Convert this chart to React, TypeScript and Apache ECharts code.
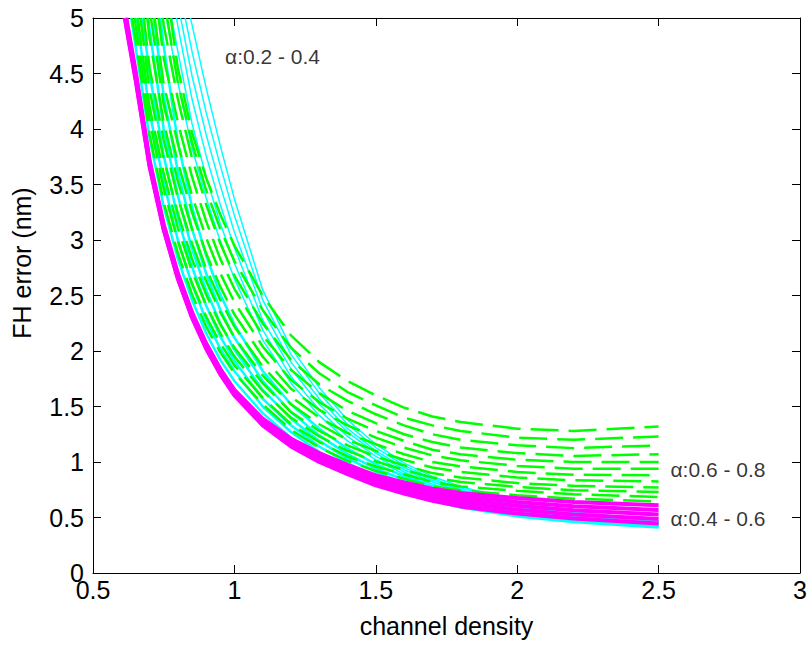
import { useEffect, useRef } from "react";
import * as echarts from "echarts";

// shared x grid (channel density)
const X = [0.65, 0.7, 0.75, 0.8, 0.85, 0.9, 0.95, 1.0, 1.1, 1.2, 1.3, 1.4, 1.5, 1.6, 1.7, 1.8, 2.0, 2.2, 2.5];

// x where each curve leaves the top of the plot (y = 5)
const cyanTop = [0.845, 0.826, 0.81, 0.795, 0.778, 0.76, 0.738, 0.715, 0.695, 0.675, 0.655, 0.635];
const cyanR0 = [null, null, null, null, 4.94, 4.37, 3.85, 3.37, 2.55, 2.03, 1.67, 1.38, 1.16, 0.99, 0.87, 0.78, 0.645, 0.555, 0.47];
const cyanR1 = [null, null, null, null, 4.7, 4.15, 3.67, 3.22, 2.46, 1.97, 1.62, 1.34, 1.13, 0.97, 0.85, 0.765, 0.635, 0.55, 0.468];
const cyanR2 = [null, null, null, null, 4.48, 3.95, 3.49, 3.07, 2.37, 1.9, 1.57, 1.3, 1.1, 0.95, 0.835, 0.75, 0.625, 0.545, 0.465];
const cyanR3 = [null, null, null, 4.93, 4.27, 3.76, 3.32, 2.93, 2.28, 1.84, 1.52, 1.27, 1.08, 0.93, 0.82, 0.735, 0.615, 0.54, 0.462];
const cyanR4 = [null, null, null, 4.7, 4.05, 3.57, 3.15, 2.79, 2.19, 1.77, 1.47, 1.23, 1.05, 0.91, 0.8, 0.72, 0.605, 0.535, 0.46];
const cyanR5 = [null, null, null, 4.42, 3.83, 3.38, 2.99, 2.65, 2.1, 1.71, 1.42, 1.19, 1.02, 0.89, 0.785, 0.705, 0.595, 0.53, 0.457];
const cyanL0 = [null, null, 4.75, 3.88, 3.3, 2.86, 2.51, 2.24, 1.82, 1.52, 1.3, 1.12, 0.98, 0.87, 0.78, 0.71, 0.6, 0.525, 0.45];
const cyanL1 = [null, null, 4.3, 3.62, 3.1, 2.7, 2.37, 2.12, 1.73, 1.45, 1.24, 1.07, 0.94, 0.84, 0.755, 0.685, 0.585, 0.515, 0.445];
const cyanL2 = [null, 4.9, 4.0, 3.4, 2.92, 2.55, 2.25, 2.01, 1.65, 1.39, 1.19, 1.03, 0.91, 0.81, 0.73, 0.665, 0.57, 0.505, 0.44];
const cyanL3 = [null, 4.5, 3.76, 3.2, 2.76, 2.41, 2.13, 1.91, 1.57, 1.33, 1.14, 0.99, 0.87, 0.78, 0.7, 0.64, 0.55, 0.49, 0.43];
const cyanL4 = [null, 4.15, 3.52, 3.0, 2.6, 2.28, 2.02, 1.82, 1.5, 1.27, 1.09, 0.95, 0.84, 0.75, 0.68, 0.62, 0.53, 0.475, 0.42];
const cyanL5 = [4.75, 3.92, 3.3, 2.83, 2.46, 2.16, 1.92, 1.73, 1.44, 1.22, 1.05, 0.92, 0.81, 0.72, 0.65, 0.59, 0.51, 0.46, 0.41];
const cyanCurves = [cyanR0, cyanR1, cyanR2, cyanR3, cyanR4, cyanR5, cyanL0, cyanL1, cyanL2, cyanL3, cyanL4, cyanL5];

const greenTop = [0.638, 0.648, 0.658, 0.668, 0.68, 0.692, 0.705, 0.718, 0.732, 0.747, 0.762, 0.775];
const greenG0 = [4.82, 3.95, 3.34, 2.88, 2.51, 2.22, 1.99, 1.8, 1.52, 1.29, 1.13, 1.01, 0.92, 0.85, 0.78, 0.745, 0.7, 0.67, 0.645];
const greenG1 = [4.95, 4.08, 3.46, 2.99, 2.61, 2.31, 2.07, 1.87, 1.58, 1.34, 1.18, 1.05, 0.96, 0.89, 0.82, 0.78, 0.74, 0.71, 0.685];
const greenG2 = [null, 4.2, 3.6, 3.11, 2.72, 2.41, 2.16, 1.95, 1.64, 1.4, 1.23, 1.1, 1.005, 0.93, 0.86, 0.82, 0.775, 0.745, 0.73];
const greenG3 = [null, 4.35, 3.73, 3.24, 2.83, 2.51, 2.24, 2.03, 1.71, 1.45, 1.28, 1.15, 1.05, 0.97, 0.9, 0.86, 0.81, 0.785, 0.77];
const greenG4 = [null, 4.55, 3.9, 3.38, 2.97, 2.63, 2.35, 2.12, 1.78, 1.52, 1.34, 1.2, 1.1, 1.02, 0.95, 0.91, 0.86, 0.835, 0.825];
const greenG5 = [null, 4.82, 4.06, 3.53, 3.1, 2.74, 2.46, 2.22, 1.86, 1.59, 1.4, 1.26, 1.16, 1.07, 1.0, 0.96, 0.91, 0.885, 0.88];
const greenG6 = [null, null, 4.22, 3.7, 3.25, 2.88, 2.58, 2.33, 1.95, 1.66, 1.47, 1.33, 1.22, 1.13, 1.06, 1.015, 0.965, 0.94, 0.94];
const greenG7 = [null, null, 4.4, 3.87, 3.4, 3.02, 2.7, 2.44, 2.04, 1.74, 1.54, 1.39, 1.28, 1.19, 1.11, 1.07, 1.02, 1.0, 1.0];
const greenG8 = [null, null, 4.64, 4.06, 3.57, 3.17, 2.83, 2.56, 2.14, 1.83, 1.62, 1.46, 1.35, 1.25, 1.18, 1.13, 1.08, 1.055, 1.07];
const greenG9 = [null, null, 4.94, 4.27, 3.74, 3.32, 2.97, 2.68, 2.25, 1.92, 1.7, 1.55, 1.43, 1.33, 1.25, 1.2, 1.15, 1.125, 1.15];
const greenG10 = [null, null, null, 4.42, 3.88, 3.45, 3.1, 2.81, 2.37, 2.03, 1.8, 1.63, 1.51, 1.4, 1.33, 1.28, 1.22, 1.2, 1.23];
const greenG11 = [null, null, null, 4.55, 3.97, 3.56, 3.23, 2.95, 2.5, 2.14, 1.9, 1.73, 1.6, 1.49, 1.41, 1.36, 1.3, 1.28, 1.32];
const greenCurves = [greenG0, greenG1, greenG2, greenG3, greenG4, greenG5, greenG6, greenG7, greenG8, greenG9, greenG10, greenG11];

const magentaTop = [0.612, 0.6135, 0.615, 0.6165, 0.618];
const magentaM0 = [4.45, 3.66, 3.09, 2.65, 2.3, 2.02, 1.79, 1.6, 1.33, 1.14, 1.0, 0.89, 0.79, 0.715, 0.65, 0.6, 0.535, 0.49, 0.445];
const magentaM1 = [4.47, 3.675, 3.1, 2.66, 2.31, 2.03, 1.8, 1.61, 1.345, 1.157, 1.02, 0.911, 0.812, 0.74, 0.677, 0.63, 0.57, 0.527, 0.486];
const magentaM2 = [4.49, 3.69, 3.115, 2.675, 2.325, 2.045, 1.815, 1.625, 1.36, 1.175, 1.04, 0.932, 0.835, 0.765, 0.705, 0.66, 0.605, 0.565, 0.527];
const magentaM3 = [4.51, 3.705, 3.13, 2.69, 2.34, 2.06, 1.83, 1.64, 1.375, 1.192, 1.06, 0.954, 0.857, 0.79, 0.732, 0.69, 0.64, 0.602, 0.568];
const magentaM4 = [4.53, 3.72, 3.14, 2.7, 2.35, 2.07, 1.84, 1.65, 1.39, 1.21, 1.08, 0.975, 0.88, 0.815, 0.76, 0.72, 0.675, 0.64, 0.61];
const magentaCurves = [magentaM0, magentaM1, magentaM2, magentaM3, magentaM4];

const Y_TOP = 5;

const annotTexts = ["α:0.2 - 0.4", "α:0.6 - 0.8", "α:0.4 - 0.6"];
const annotX = [0.965, 2.54, 2.54];
const annotY = [4.65, 0.93, 0.49];

const FONT = "'Liberation Sans', Arial, Helvetica, sans-serif";

function buildData(top: number, ys: (number | null)[]) {
  const pts: number[][] = [[top, Y_TOP]];
  X.forEach((x, i) => {
    const y = ys[i];
    if (y !== null && x > top) pts.push([x, y]);
  });
  return pts;
}

export default function App() {
  const ref = useRef<HTMLDivElement>(null);
  useEffect(() => {
    if (!ref.current) return;
    const chart = echarts.init(ref.current, undefined, { renderer: "svg" });

    const series: any[] = [];
    cyanCurves.forEach((ys, i) => {
      series.push({
        type: "line",
        data: buildData(cyanTop[i], ys),
        symbol: "none",
        smooth: false,
        lineStyle: { color: "#00ffff", width: i < 6 ? 1.5 : 2.5 },
        z: 2,
      });
    });
    greenCurves.forEach((ys, i) => {
      series.push({
        type: "line",
        data: buildData(greenTop[i], ys),
        symbol: "none",
        smooth: false,
        lineStyle: { color: "#00ff00", width: 2.5, type: [28, 10] },
        z: 3,
      });
    });
    magentaCurves.forEach((ys, i) => {
      series.push({
        type: "line",
        data: buildData(magentaTop[i], ys),
        symbol: "none",
        smooth: false,
        lineStyle: { color: "#ff00ff", width: 4 },
        z: 4,
      });
    });
    series.push({
      type: "scatter",
      data: annotTexts.map((t, i) => [annotX[i], annotY[i], t]),
      symbolSize: 1,
      itemStyle: { color: "rgba(0,0,0,0)" },
      label: {
        show: true,
        position: "right",
        distance: 0,
        formatter: (p: any) => p.data[2],
        color: "#000",
        fontSize: 21,
        fontFamily: FONT,
      },
      z: 5,
    });

    const axisLine = { show: true, onZero: false, lineStyle: { color: "#000", width: 1 } };
    const axisTick = { show: true, inside: true, length: 8, lineStyle: { color: "#000", width: 1 } };
    const label = { color: "#000", fontSize: 25, fontFamily: FONT };

    chart.setOption({
      animation: false,
      backgroundColor: "#fff",
      grid: { left: 93, right: 10, top: 18, bottom: 73, containLabel: false },
      xAxis: [
        {
          type: "value",
          position: "bottom",
          min: 0.5,
          max: 3,
          interval: 0.5,
          axisLine,
          axisTick,
          axisLabel: { ...label, margin: 4 },
          splitLine: { show: false },
          name: "channel density",
          nameLocation: "middle",
          nameGap: 40,
          nameTextStyle: { color: "#000", fontSize: 25, fontFamily: FONT },
        },
        {
          type: "value",
          position: "top",
          min: 0.5,
          max: 3,
          interval: 0.5,
          axisLine,
          axisTick,
          axisLabel: { show: false },
          splitLine: { show: false },
        },
      ],
      yAxis: [
        {
          type: "value",
          position: "left",
          min: 0,
          max: 5,
          interval: 0.5,
          axisLine,
          axisTick,
          axisLabel: { ...label, margin: 9 },
          splitLine: { show: false },
        },
        {
          type: "value",
          position: "right",
          min: 0,
          max: 5,
          interval: 0.5,
          axisLine,
          axisTick,
          axisLabel: { show: false },
          splitLine: { show: false },
        },
      ],
      graphic: [
        {
          type: "text",
          x: 22,
          y: 263,
          rotation: Math.PI / 2,
          style: {
            text: "FH error (nm)",
            fontSize: 25,
            fontFamily: FONT,
            fill: "#000",
            textAlign: "center",
            textVerticalAlign: "middle",
          },
        },
      ],
      series,
    });
    return () => chart.dispose();
  }, []);
  return (
    <div
      ref={ref}
      style={{ position: "absolute", left: 0, top: 0, width: 810, height: 646 }}
    />
  );
}
